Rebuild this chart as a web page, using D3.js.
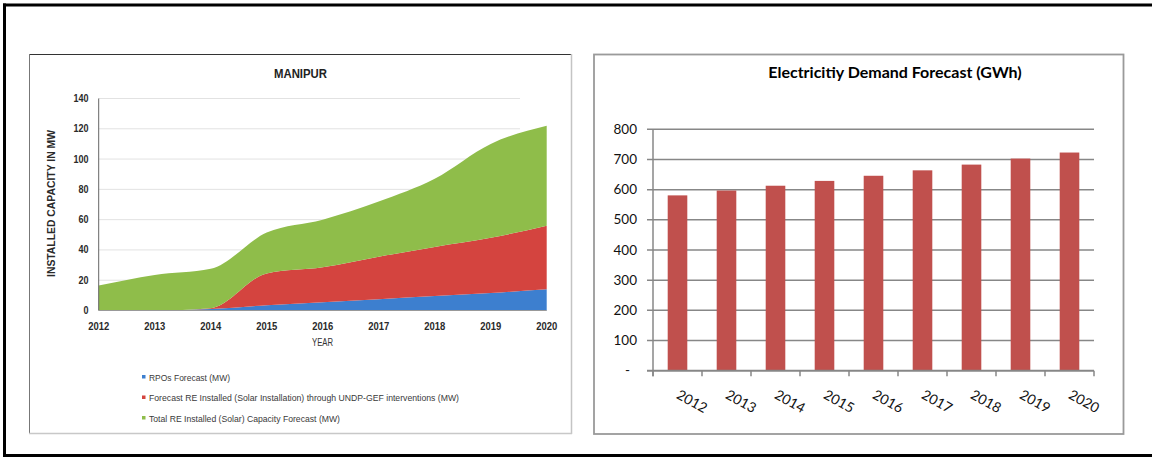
<!DOCTYPE html>
<html>
<head>
<meta charset="utf-8">
<script src="https://cdn.jsdelivr.net/npm/d3@7"></script>
<style>
  html, body { margin: 0; padding: 0; background: #fff; }
  svg { display: block; }
</style>
</head>
<body>
<svg id="chart" width="1152" height="457"></svg>
<script>
// ---------- Data: left chart (MANIPUR, stacked area, MW) ----------
const areaYears = [2012, 2013, 2014, 2015, 2016, 2017, 2018, 2019, 2020];
const rpoValues   = [0, 0, 1, 3.5, 5.5, 7.5, 9.5, 11.5, 14];
const undpValues  = [0, 0, 0.5, 21, 23, 28, 32.5, 36.5, 42];
const totalValues = [16.5, 23.5, 26, 27, 31.5, 36.5, 45, 62, 66];
const areaSeriesNames = [
  "RPOs Forecast (MW)",
  "Forecast RE Installed (Solar Installation) through UNDP-GEF interventions  (MW)",
  "Total RE Installed (Solar) Capacity Forecast (MW)"
];
const areaYTicks = [0, 20, 40, 60, 80, 100, 120, 140];

// ---------- Data: right chart (Electricity demand, GWh) ----------
const demandYears = ["2012", "2013", "2014", "2015", "2016", "2017", "2018", "2019", "2020"];
const demandValues = [581, 597, 613, 629, 646, 664, 683, 703, 723];
const demandTicks = [0, 100, 200, 300, 400, 500, 600, 700, 800];

const svg = d3.select("#chart");

// ---------- Outer frame ----------
svg.append("line").attr("x1", 3).attr("x2", 1152).attr("y1", 5).attr("y2", 5)
  .attr("stroke", "#000").attr("stroke-width", 3);
svg.append("line").attr("x1", 4.5).attr("x2", 4.5).attr("y1", 3.5).attr("y2", 457)
  .attr("stroke", "#000").attr("stroke-width", 3);
svg.append("line").attr("x1", 3).attr("x2", 1152).attr("y1", 455.5).attr("y2", 455.5)
  .attr("stroke", "#000").attr("stroke-width", 3);

// =============== LEFT CHART ===============
const L = svg.append("g");
// panel border
L.append("line").attr("x1", 29).attr("x2", 572).attr("y1", 54.5).attr("y2", 54.5).attr("stroke", "#333").attr("stroke-width", 1);
L.append("line").attr("x1", 29.5).attr("x2", 29.5).attr("y1", 54).attr("y2", 434).attr("stroke", "#777").attr("stroke-width", 1);
L.append("line").attr("x1", 571.5).attr("x2", 571.5).attr("y1", 54).attr("y2", 434).attr("stroke", "#c4c4c4").attr("stroke-width", 1.5);
L.append("line").attr("x1", 29).attr("x2", 572).attr("y1", 433.5).attr("y2", 433.5).attr("stroke", "#c8c8c8").attr("stroke-width", 1.5);

const lx = d3.scaleLinear().domain([2012, 2020]).range([98.7, 546.7]);
const ly = d3.scaleLinear().domain([0, 140]).range([310.5, 98.5]);

// gridlines
L.append("g").selectAll("line").data(areaYTicks.filter(d => d > 0)).join("line")
  .attr("x1", lx(2012)).attr("x2", 520)
  .attr("y1", d => ly(d)).attr("y2", d => ly(d))
  .attr("stroke", "#e2e2e2").attr("stroke-width", 1);

const rows = areaYears.map((y, i) => ({ year: y, rpo: rpoValues[i], undp: undpValues[i], total: totalValues[i] }));
const stack = d3.stack().keys(["rpo", "undp", "total"]);
const stacked = stack(rows);
const areaColors = ["#3d7fcf", "#d4443f", "#8fbd4a"];
const area = d3.area()
  .x(d => lx(d.data.year))
  .y0(d => ly(d[0]))
  .y1(d => ly(d[1]))
  .curve(d3.curveMonotoneX);
L.append("g").selectAll("path").data(stacked).join("path")
  .attr("d", area)
  .attr("fill", (d, i) => areaColors[i]);

// axes lines
L.append("line").attr("x1", lx(2012)).attr("x2", lx(2012)).attr("y1", ly(140)).attr("y2", ly(0))
  .attr("stroke", "#666").attr("stroke-width", 1);
L.append("line").attr("x1", lx(2012)).attr("x2", lx(2020)).attr("y1", ly(0)).attr("y2", ly(0))
  .attr("stroke", "#999").attr("stroke-width", 1);

const narrow = "'Liberation Sans', Arial, sans-serif";
// y tick labels
L.append("g").selectAll("text").data(areaYTicks).join("text")
  .attr("x", 88.5).attr("y", d => ly(d) + 3.5)
  .attr("text-anchor", "end")
  .attr("font-family", narrow).attr("font-size", 10).attr("font-weight", "bold")
  .attr("fill", "#2a2a2a")
  .attr("textLength", d => String(d).length * 5)
  .attr("lengthAdjust", "spacingAndGlyphs")
  .text(d => d);
// x tick labels
L.append("g").selectAll("text").data(areaYears).join("text")
  .attr("x", d => lx(d) - 10.5).attr("y", 330)
  .attr("font-family", narrow).attr("font-size", 10.5).attr("font-weight", "bold")
  .attr("fill", "#2a2a2a")
  .attr("textLength", 21)
  .attr("lengthAdjust", "spacingAndGlyphs")
  .text(d => d);
// axis titles
L.append("text").attr("x", 312).attr("y", 346)
  .attr("font-family", narrow).attr("font-size", 10).attr("fill", "#333")
  .attr("textLength", 21).attr("lengthAdjust", "spacingAndGlyphs")
  .text("YEAR");
L.append("text")
  .attr("transform", "translate(55,277) rotate(-90)")
  .attr("font-family", narrow).attr("font-size", 10.5).attr("font-weight", "bold").attr("fill", "#2a2a2a")
  .attr("textLength", 147).attr("lengthAdjust", "spacingAndGlyphs")
  .text("INSTALLED CAPACITY IN MW");
L.append("text").attr("x", 274).attr("y", 78)
  .attr("font-family", narrow).attr("font-size", 13.5).attr("font-weight", "bold").attr("fill", "#222")
  .attr("textLength", 53).attr("lengthAdjust", "spacingAndGlyphs")
  .text("MANIPUR");

// legend
const legendWidths = [81, 310, 191];
const lg = L.append("g").selectAll("g").data(areaSeriesNames).join("g")
  .attr("transform", (d, i) => `translate(0,${380.5 + i * 20.5})`);
lg.append("rect").attr("x", 142).attr("y", -5.5).attr("width", 3.5).attr("height", 3.5)
  .attr("fill", (d, i) => areaColors[i]);
lg.append("text").attr("x", 149).attr("y", 0)
  .attr("font-family", narrow).attr("font-size", 9.5).attr("fill", "#3a3a3a")
  .attr("textLength", (d, i) => legendWidths[i]).attr("lengthAdjust", "spacingAndGlyphs")
  .text(d => d);

// =============== RIGHT CHART ===============
const R = svg.append("g");
R.append("rect").attr("x", 594).attr("y", 54.5).attr("width", 529.5).attr("height", 379.5)
  .attr("fill", "#fff").attr("stroke", "#9a9a9a").attr("stroke-width", 1.8);

const bx = d3.scaleBand().domain(demandYears).range([653, 1094]).paddingInner(0.6).paddingOuter(0.3);
const by = d3.scaleLinear().domain([0, 800]).range([370.7, 129.3]);
const grey = "#878787";
const calib = "Lato, 'Open Sans', sans-serif";

// gridlines (with outward ticks)
R.append("g").selectAll("line").data(demandTicks).join("line")
  .attr("x1", 647).attr("x2", 1094)
  .attr("y1", d => by(d)).attr("y2", d => by(d))
  .attr("stroke", grey).attr("stroke-width", 1.5);
// y axis line
R.append("line").attr("x1", 653).attr("x2", 653).attr("y1", by(800)).attr("y2", by(0) + 5.5)
  .attr("stroke", grey).attr("stroke-width", 1.5);

// bars
R.append("g").selectAll("rect").data(demandValues).join("rect")
  .attr("x", (d, i) => bx(demandYears[i]))
  .attr("width", bx.bandwidth())
  .attr("y", d => by(d))
  .attr("height", d => by(0) - by(d))
  .attr("fill", "#c0504d");

// x axis line & ticks at category boundaries
R.append("line").attr("x1", 647).attr("x2", 1094).attr("y1", by(0)).attr("y2", by(0))
  .attr("stroke", grey).attr("stroke-width", 1.8);
const boundaries = demandYears.map((d, i) => 653 + i * bx.step()).concat([1094]);
R.append("g").selectAll("line").data(boundaries).join("line")
  .attr("x1", d => d).attr("x2", d => d).attr("y1", by(0)).attr("y2", by(0) + 5.5)
  .attr("stroke", grey).attr("stroke-width", 1.5);

// y tick labels
R.append("g").selectAll("text").data(demandTicks).join("text")
  .attr("x", d => d === 0 ? 630 : 637)
  .attr("y", d => by(d) + 4.5)
  .attr("text-anchor", "end")
  .attr("font-family", calib).attr("font-size", 13.5).attr("fill", "#111")
  .text(d => d === 0 ? "-" : d);

// x tick labels rotated
R.append("g").selectAll("text").data(demandYears).join("text")
  .attr("transform", d => `translate(${bx(d) + bx.bandwidth() / 2 - 2},${by(0) + 27}) rotate(29)`)
  .attr("font-family", calib).attr("font-size", 14).attr("fill", "#111")
  .text(d => d);

// title
R.append("text").attr("x", 895).attr("y", 78)
  .attr("text-anchor", "middle")
  .attr("font-family", calib).attr("font-size", 16).attr("font-weight", "bold").attr("fill", "#000")
  .text("Electricitiy Demand Forecast (GWh)");
</script>
</body>
</html>
